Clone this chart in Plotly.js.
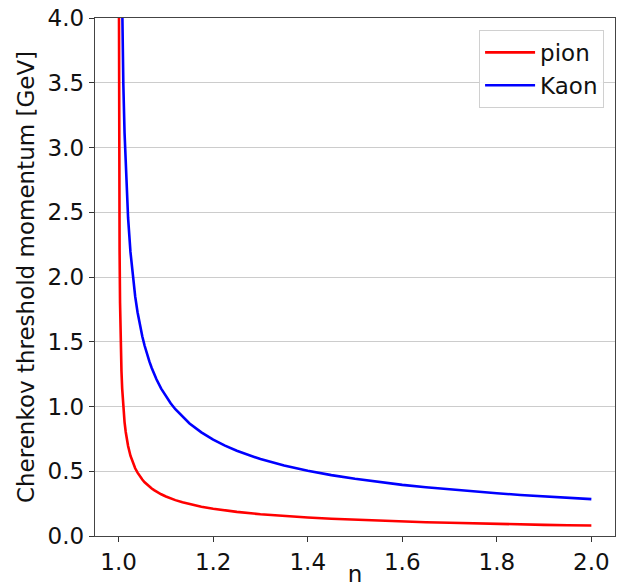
<!DOCTYPE html>
<html>
<head>
<meta charset="utf-8">
<script src="https://cdn.plot.ly/plotly-3.0.1.min.js"></script>
<style>html,body{margin:0;padding:0;background:#fff;}#chart{width:617px;height:587px;}</style>
</head>
<body>
<div id="chart"></div>
<script>
// refractive index n (x values)
const nValues = [1.0005, 1.0007, 1.001, 1.0015, 1.002, 1.003, 1.004, 1.005, 1.006, 1.0075, 1.0085, 1.01, 1.0125, 1.015, 1.0175, 1.02, 1.025, 1.03, 1.035, 1.04, 1.045, 1.05, 1.055, 1.06, 1.065, 1.07, 1.075, 1.08, 1.09, 1.10, 1.11, 1.12, 1.135, 1.15, 1.175, 1.2, 1.225, 1.25, 1.3, 1.35, 1.4, 1.45, 1.5, 1.55, 1.6, 1.65, 1.7, 1.75, 1.8, 1.85, 1.9, 1.95, 2.0];
// threshold momentum [GeV]
const pionMomentum = [4.41, 3.73, 3.12, 2.548, 2.21, 1.80, 1.559, 1.394, 1.272, 1.138, 1.068, 0.985, 0.880, 0.803, 0.743, 0.695, 0.620, 0.566, 0.523, 0.489, 0.460, 0.436, 0.415, 0.397, 0.381, 0.367, 0.354, 0.342, 0.322, 0.305, 0.290, 0.277, 0.260, 0.246, 0.226, 0.211, 0.197, 0.186, 0.168, 0.154, 0.143, 0.133, 0.125, 0.118, 0.112, 0.106, 0.102, 0.097, 0.093, 0.090, 0.086, 0.083, 0.081];
const kaonMomentum = [15.6, 13.19, 11.04, 9.01, 7.80, 6.37, 5.514, 4.93, 4.50, 4.02, 3.778, 3.48, 3.113, 2.84, 2.627, 2.456, 2.194, 2.001, 1.850, 1.728, 1.627, 1.542, 1.469, 1.404, 1.348, 1.298, 1.2515, 1.210, 1.138, 1.077, 1.025, 0.979, 0.920, 0.869, 0.800, 0.744, 0.698, 0.658, 0.594, 0.544, 0.504, 0.470, 0.442, 0.417, 0.395, 0.376, 0.359, 0.344, 0.330, 0.317, 0.306, 0.295, 0.285];
const seriesNames = ["pion", "Kaon"];
const yTicks = [0.0, 0.5, 1.0, 1.5, 2.0, 2.5, 3.0, 3.5, 4.0];
const xTicks = [1.0, 1.2, 1.4, 1.6, 1.8, 2.0];

const fam = "DejaVu Sans, sans-serif";
const tickFont = {family: fam, size: 23, color: "#111"};
const yTitleFont = {family: fam, size: 23, color: "#111"};
const xTitleFont = {family: fam, size: 23, color: "#111"};

const traces = [
  {x: nValues, y: pionMomentum, name: seriesNames[0], mode: "lines", line: {color: "#ff0000", width: 2.6}},
  {x: nValues, y: kaonMomentum, name: seriesNames[1], mode: "lines", line: {color: "#0000ff", width: 2.6}}
];

const layout = {
  width: 617, height: 587,
  margin: {l: 95, r: 2, t: 18, b: 51},
  paper_bgcolor: "#fff", plot_bgcolor: "#fff",
  font: tickFont,
  showlegend: true,
  legend: {
    x: 0.979, y: 0.977, xanchor: "right", yanchor: "top",
    bgcolor: "rgba(255,255,255,0.9)", bordercolor: "#d0d0d0", borderwidth: 1,
    font: {family: fam, size: 23, color: "#111"},
    itemwidth: 50,
    tracegroupgap: 0
  },
  xaxis: {
    range: [0.95, 2.05],
    tickvals: xTicks, ticktext: xTicks.map(v => v.toFixed(1)),
    ticks: "outside", ticklen: 5, tickcolor: "#333",
    showgrid: false, zeroline: false,
    showline: true, linecolor: "#444", linewidth: 1.3, mirror: true,
    tickfont: tickFont,
    title: {text: "n", font: xTitleFont, standoff: 6}
  },
  yaxis: {
    range: [0, 4],
    tickvals: yTicks, ticktext: yTicks.map(v => v.toFixed(1)),
    ticks: "outside", ticklen: 5, tickcolor: "#333",
    showgrid: true, gridcolor: "#cccccc", gridwidth: 1,
    zeroline: false,
    showline: true, linecolor: "#444", linewidth: 1.3, mirror: true,
    tickfont: tickFont,
    title: {text: "Cherenkov threshold momentum [GeV]", font: yTitleFont, standoff: 6}
  }
};

Plotly.newPlot("chart", traces, layout, {displayModeBar: false, staticPlot: true});
</script>
</body>
</html>
